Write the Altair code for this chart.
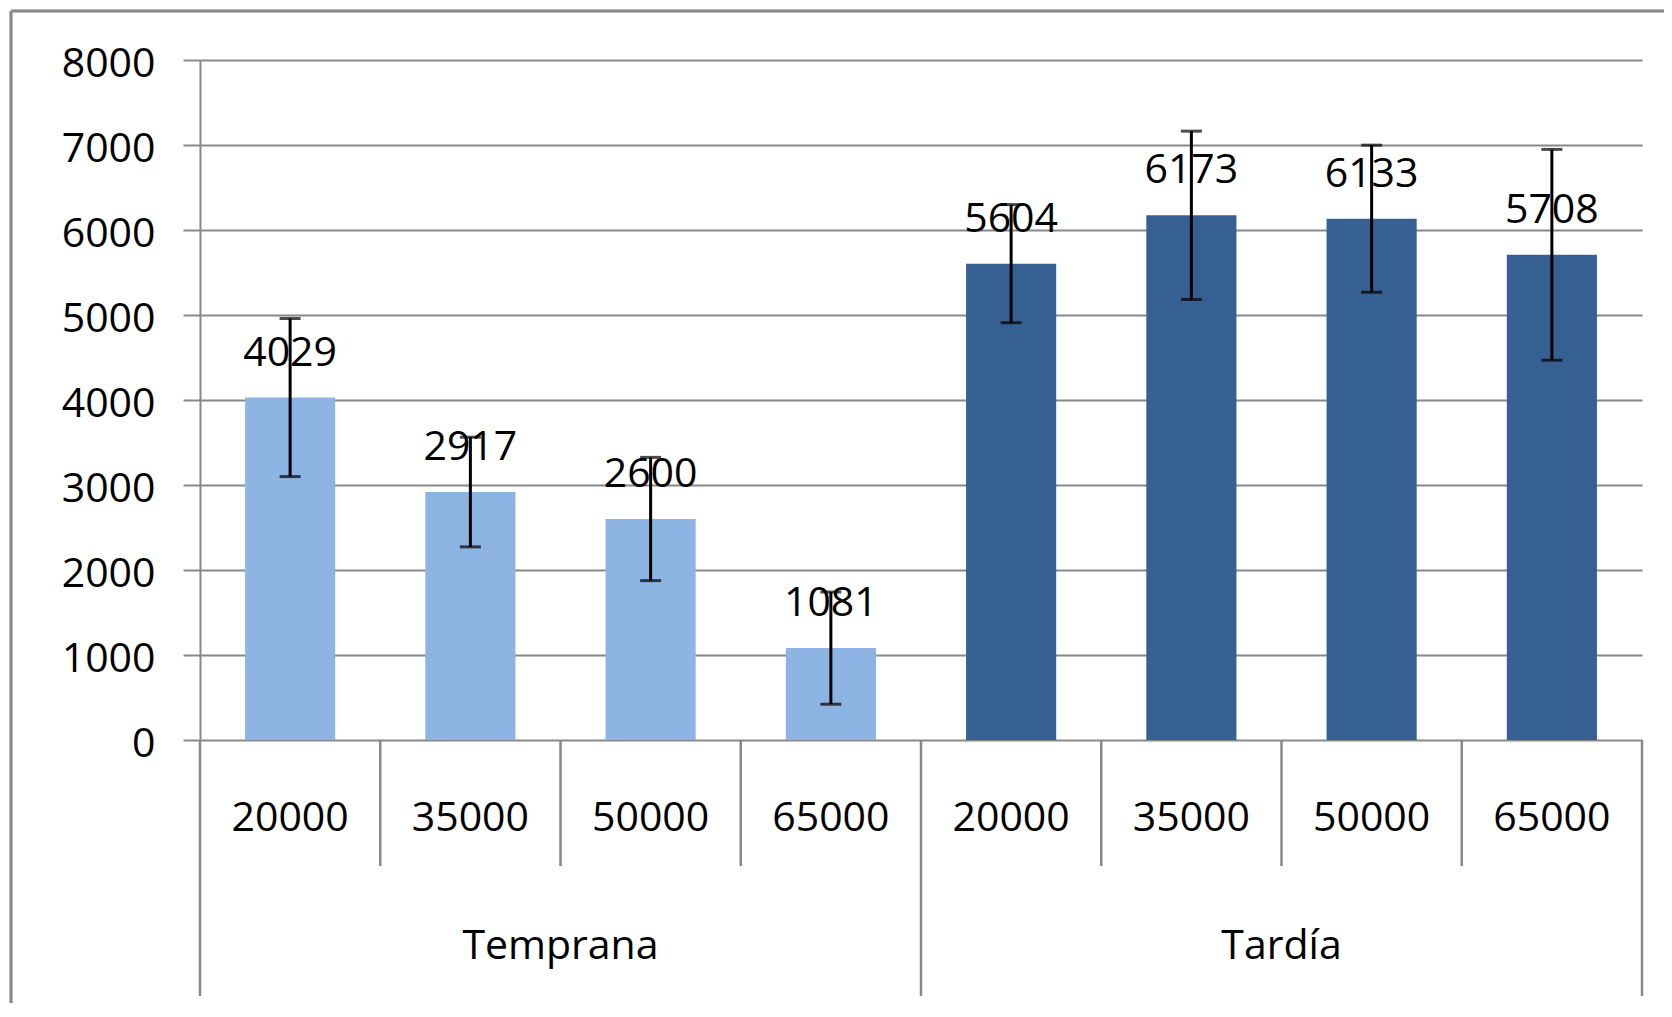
import altair as alt
import pandas as pd

# ---- data ----
group_names = ["Temprana", "Tardía"]
doses = ["20000", "35000", "50000", "65000"]
values_temprana = [4029, 2917, 2600, 1081]
values_tardia = [5604, 6173, 6133, 5708]
err_temprana = [930, 645, 725, 660]
err_tardia = [695, 990, 865, 1240]
y_ticks = [0, 1000, 2000, 3000, 4000, 5000, 6000, 7000, 8000]

LIGHT = "#8EB4E3"
DARK = "#376092"
GRAY = "#888888"
FONT = "Open Sans"
FS = 41

W, H = 1442, 680

rows = []
for gi, (g, vals, errs) in enumerate([(group_names[0], values_temprana, err_temprana),
                                      (group_names[1], values_tardia, err_tardia)]):
    for di, (d, v, e) in enumerate(zip(doses, vals, errs)):
        idx = gi * 4 + di
        rows.append({"group": g, "dose": d, "value": v, "label": str(v),
                     "pos": idx + 0.5, "x0": idx + 0.25, "x1": idx + 0.75,
                     "lo": v - e, "hi": v + e})
df = pd.DataFrame(rows)

groups_df = pd.DataFrame({"group": group_names, "center": [2, 6]})
short_sep = pd.DataFrame({"b": [1, 2, 3, 5, 6, 7]})
long_sep = pd.DataFrame({"b": [0, 4, 8]})

xs = alt.Scale(domain=[0, 8], nice=False, zero=False, padding=0)
ys = alt.Scale(domain=[0, 8000], nice=False, padding=0)

base = alt.Chart(df)

bars = base.mark_bar().encode(
    x=alt.X("x0:Q", scale=xs, axis=None),
    x2="x1:Q",
    y=alt.Y("value:Q", scale=ys, axis=alt.Axis(
        values=y_ticks, format="d", title=None, grid=True, gridColor=GRAY, gridWidth=2,
        domainColor=GRAY, domainWidth=2, tickColor=GRAY, tickWidth=2, tickSize=17,
        labelFont=FONT, labelFontSize=FS, labelColor="black", labelPadding=28,
        labelOffset=4)),
    y2=alt.datum(0),
    color=alt.Color("group:N", scale=alt.Scale(domain=group_names, range=[LIGHT, DARK]),
                    legend=None),
)

err_line = base.mark_rule(color="black", strokeWidth=3).encode(
    x=alt.X("pos:Q", scale=xs), y=alt.Y("lo:Q", scale=ys), y2="hi:Q")
cap_hi = base.mark_tick(color="black", orient="horizontal", size=21, thickness=3).encode(
    x=alt.X("pos:Q", scale=xs), y=alt.Y("hi:Q", scale=ys))
cap_lo = base.mark_tick(color="black", orient="horizontal", size=21, thickness=3).encode(
    x=alt.X("pos:Q", scale=xs), y=alt.Y("lo:Q", scale=ys))

value_labels = base.mark_text(font=FONT, fontSize=FS, color="black",
                              baseline="alphabetic", align="center", dy=-32).encode(
    x=alt.X("pos:Q", scale=xs), y=alt.Y("value:Q", scale=ys), text="label:N")

dose_labels = base.mark_text(font=FONT, fontSize=FS, color="black",
                             baseline="alphabetic", align="center").encode(
    x=alt.X("pos:Q", scale=xs), y=alt.value(H + 91), text="dose:N")

group_labels = alt.Chart(groups_df).mark_text(font=FONT, fontSize=FS, color="black",
                                              baseline="alphabetic", align="center").encode(
    x=alt.X("center:Q", scale=xs), y=alt.value(H + 219), text="group:N")

short_rules = alt.Chart(short_sep).mark_rule(color=GRAY, strokeWidth=2.5).encode(
    x=alt.X("b:Q", scale=xs), y=alt.value(H), y2=alt.value(H + 126))
long_rules = alt.Chart(long_sep).mark_rule(color=GRAY, strokeWidth=2.5).encode(
    x=alt.X("b:Q", scale=xs), y=alt.value(H), y2=alt.value(H + 256))

border_top = alt.Chart(long_sep).mark_rule(color=GRAY, strokeWidth=2.5).encode(
    x=alt.value(-189), x2=alt.value(1464), y=alt.value(-49))
border_left = alt.Chart(long_sep).mark_rule(color=GRAY, strokeWidth=2.5).encode(
    x=alt.value(-189), y=alt.value(-49), y2=alt.value(H + 263))

chart = alt.layer(
    bars, err_line, cap_hi, cap_lo, value_labels, dose_labels, group_labels,
    short_rules, long_rules, border_top, border_left
).properties(
    width=W, height=H,
    autosize=alt.AutoSizeParams(type="none"),
    padding={"left": 192, "top": 52, "right": 22, "bottom": 263},
    background="white",
).configure_view(stroke=None)

chart.save("out.html", embed_options={"renderer": "svg", "actions": False})
